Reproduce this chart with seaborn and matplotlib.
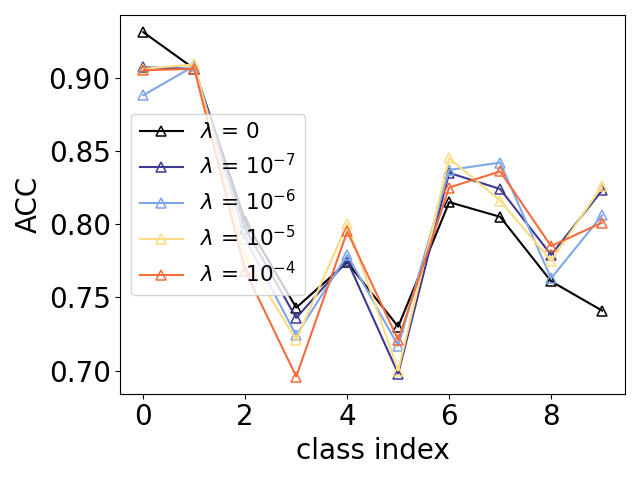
import numpy as np
import pandas as pd
import seaborn as sns
from matplotlib import pyplot as plt

classes = list(range(10))
acc_0 = [0.931, 0.906, 0.802, 0.743, 0.774, 0.730, 0.815, 0.805, 0.761, 0.741]
acc_1e7 = [0.907, 0.906, 0.797, 0.736, 0.775, 0.698, 0.835, 0.824, 0.779, 0.823]
acc_1e6 = [0.888, 0.908, 0.790, 0.724, 0.779, 0.717, 0.837, 0.842, 0.763, 0.806]
acc_1e5 = [0.906, 0.909, 0.778, 0.721, 0.800, 0.700, 0.845, 0.816, 0.775, 0.826]
acc_1e4 = [0.905, 0.906, 0.768, 0.696, 0.795, 0.721, 0.825, 0.836, 0.785, 0.801]

labels = [r'$\lambda$ = 0', r'$\lambda$ = $10^{-7}$', r'$\lambda$ = $10^{-6}$',
          r'$\lambda$ = $10^{-5}$', r'$\lambda$ = $10^{-4}$']
colors = ['black', '#3d3a8f', '#7ea6e8', '#fcdc82', '#f56c3e']

series = [acc_0, acc_1e7, acc_1e6, acc_1e5, acc_1e4]

fig = plt.figure(figsize=(6.4, 4.8), dpi=100)
ax = plt.subplot()
for vals, lab, c in zip(series, labels, colors):
    sns.lineplot(x=classes, y=vals, ax=ax, label=lab, color=c,
                 marker='^', fillstyle='none', markersize=6.5,
                 markeredgecolor=c, markeredgewidth=1.1, linewidth=1.5)

ax.set_xlabel('class index', fontsize=20)
ax.set_ylabel('ACC', fontsize=20)
ax.tick_params(labelsize=20)
ax.set_xticks([0, 2, 4, 6, 8])
ax.set_yticks([0.70, 0.75, 0.80, 0.85, 0.90])
ax.legend(loc='center left', fontsize=15.5)

plt.tight_layout()
plt.savefig('out.png')
